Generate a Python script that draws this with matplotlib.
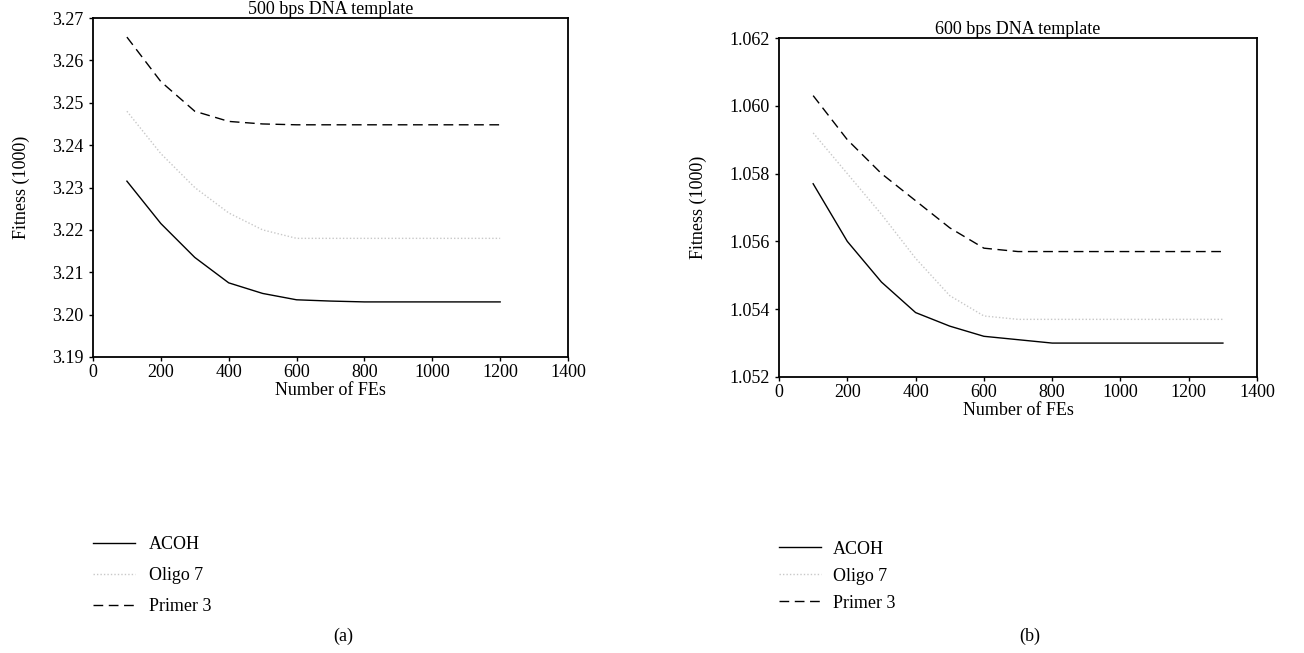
import matplotlib
matplotlib.use("Agg")
import matplotlib.pyplot as plt

plt.rcParams['font.family'] = ['Liberation Serif', 'DejaVu Serif']
plt.rcParams['font.size'] = 13

# 500 bps template
fes_a = [100, 200, 300, 400, 500, 600, 700, 800, 900, 1000, 1100, 1200]
acoh_a = [3.2315, 3.2215, 3.2135, 3.2075, 3.205, 3.2035, 3.2032, 3.203, 3.203, 3.203, 3.203, 3.203]
oligo_a = [3.248, 3.238, 3.230, 3.224, 3.220, 3.218, 3.218, 3.218, 3.218, 3.218, 3.218, 3.218]
primer_a = [3.2655, 3.255, 3.248, 3.2456, 3.245, 3.2448, 3.2448, 3.2448, 3.2448, 3.2448, 3.2448, 3.2448]

# 600 bps template
fes_b = [100, 200, 300, 400, 500, 600, 700, 800, 900, 1000, 1100, 1200, 1300]
acoh_b = [1.0577, 1.0560, 1.0548, 1.0539, 1.0535, 1.0532, 1.0531, 1.0530, 1.0530, 1.0530, 1.0530, 1.0530, 1.0530]
oligo_b = [1.0592, 1.0580, 1.0568, 1.0555, 1.0544, 1.0538, 1.0537, 1.0537, 1.0537, 1.0537, 1.0537, 1.0537, 1.0537]
primer_b = [1.0603, 1.0590, 1.0580, 1.0572, 1.0564, 1.0558, 1.0557, 1.0557, 1.0557, 1.0557, 1.0557, 1.0557, 1.0557]

series_names = ['ACOH', 'Oligo 7', 'Primer 3']

fig = plt.figure(figsize=(13.04, 6.53), dpi=100)
ax1 = fig.add_axes([0.0713, 0.4533, 0.3643, 0.5191])
ax2 = fig.add_axes([0.5974, 0.4227, 0.3666, 0.5191])


def draw(ax, x, acoh, oligo, primer, title, ylim, yticks, fmt):
    l1, = ax.plot(x, acoh, color='black', lw=1.0, label=series_names[0])
    l2, = ax.plot(x, oligo, color='#c8c8c8', lw=1.0, ls=(0, (1, 1.5)), label=series_names[1])
    l3, = ax.plot(x, primer, color='black', lw=1.0, ls=(0, (7, 4)), label=series_names[2])
    ax.set_xlim(0, 1400)
    ax.set_xticks(range(0, 1401, 200))
    ax.set_ylim(*ylim)
    ax.set_yticks(yticks)
    ax.set_yticklabels([fmt.format(v) for v in yticks])
    ax.set_title(title, fontsize=13, pad=3)
    ax.set_xlabel('Number of FEs', labelpad=1)
    ax.set_ylabel('Fitness (1000)', labelpad=16)
    ax.tick_params(direction='out', length=3, width=1, pad=2, top=False, right=False)
    ax.tick_params(axis='y', pad=4)
    for s in ax.spines.values():
        s.set_linewidth(1.3)
    return [l1, l2, l3]


h1 = draw(ax1, fes_a, acoh_a, oligo_a, primer_a, '500 bps DNA template',
          (3.19, 3.27), [3.19 + 0.01 * i for i in range(9)], '{:.2f}')
h2 = draw(ax2, fes_b, acoh_b, oligo_b, primer_b, '600 bps DNA template',
          (1.052, 1.062), [1.052 + 0.002 * i for i in range(6)], '{:.3f}')

fig.legend(h1, series_names, loc='upper left', bbox_to_anchor=(0.0713, 0.179),
           frameon=False, borderpad=0, borderaxespad=0, handlelength=2.3,
           handletextpad=0.8, labelspacing=0.78)
fig.legend(h2, series_names, loc='upper left', bbox_to_anchor=(0.5974, 0.172),
           frameon=False, borderpad=0, borderaxespad=0, handlelength=2.3,
           handletextpad=0.7, labelspacing=0.55)

fig.text(0.263, 0.026, '(a)', ha='center', va='center')
fig.text(0.790, 0.026, '(b)', ha='center', va='center')

fig.savefig('out.png', dpi=100)
